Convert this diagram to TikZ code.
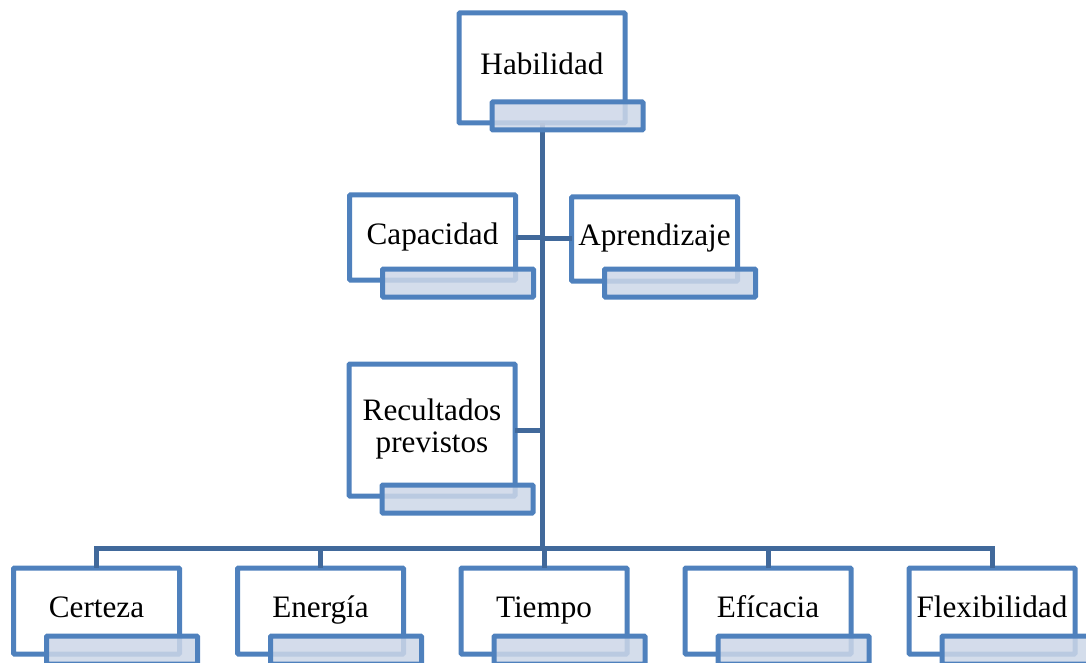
\documentclass[tikz,border=0pt]{standalone}
\usepackage{fontspec}
\setmainfont{Liberation Serif}
\definecolor{boxline}{HTML}{4F81BD}
\definecolor{linkline}{HTML}{41699B}
\definecolor{tagfill}{HTML}{CDD7E8}
\tikzset{
  box/.style={draw=boxline, line width=2.5pt, fill=white, rounded corners=0.5pt,
    minimum width=83pt, minimum height=43pt, outer sep=0pt, inner sep=1pt,
    text depth=4pt, align=center, font=\fontsize{15.6}{16}\selectfont},
  tagbox/.style={draw=boxline, line width=2.5pt, fill=tagfill, fill opacity=0.85,
    rounded corners=0.5pt, minimum width=75.5pt, minimum height=14pt,
    outer sep=0pt, inner sep=0pt, anchor=north west},
  link/.style={draw=linkline, line width=2.5pt}
}
\newcommand{\tagon}[2]{\node[tagbox] (#1t) at ([shift={(33,-#2)}]#1.south west) {};}
\begin{document}
\begin{tikzpicture}[x=0.5pt,y=-0.5pt]
      \useasboundingbox (0,0) rectangle (1086,663);
      \node[box, minimum height=55pt] (hab) at (542,68) {Habilidad};
      \node[box, minimum height=42.5pt] (cap) at (432.5,237.5) {Capacidad};
      \node[box, minimum height=42pt] (apr) at (654.5,239) {Aprendizaje};
      \node[box, minimum height=66pt] (rec) at (432,430) {Recultados\\previstos};
      \node[box] (cer) at (96.5,611) {Certeza};
      \node[box] (ene) at (320.5,611) {Energía};
      \node[box] (tie) at (544,611) {Tiempo};
      \node[box] (efi) at (768,611) {Efícacia};
      \node[box] (fle) at (992,611) {Flexibilidad};
      \coordinate (bar) at (542,548);
      \begin{scope}[link]
        \draw (hab.south) -- (bar);
        \draw (cap.east) -- (cap.east -| bar);
        \draw (apr.west) -- (apr.west -| bar);
        \draw (rec.east) -- (rec.east -| bar);
        \foreach \n in {cer,ene,tie,efi,fle}
          \draw (bar) -| (\n.north);
      \end{scope}
      \tagon{hab}{21}
      \tagon{cap}{11}
      \tagon{apr}{12}
      \tagon{rec}{11}
      \foreach \n in {cer,ene,tie,efi,fle}{
        \tagon{\n}{18}
      }
    \end{tikzpicture}
\end{document}
